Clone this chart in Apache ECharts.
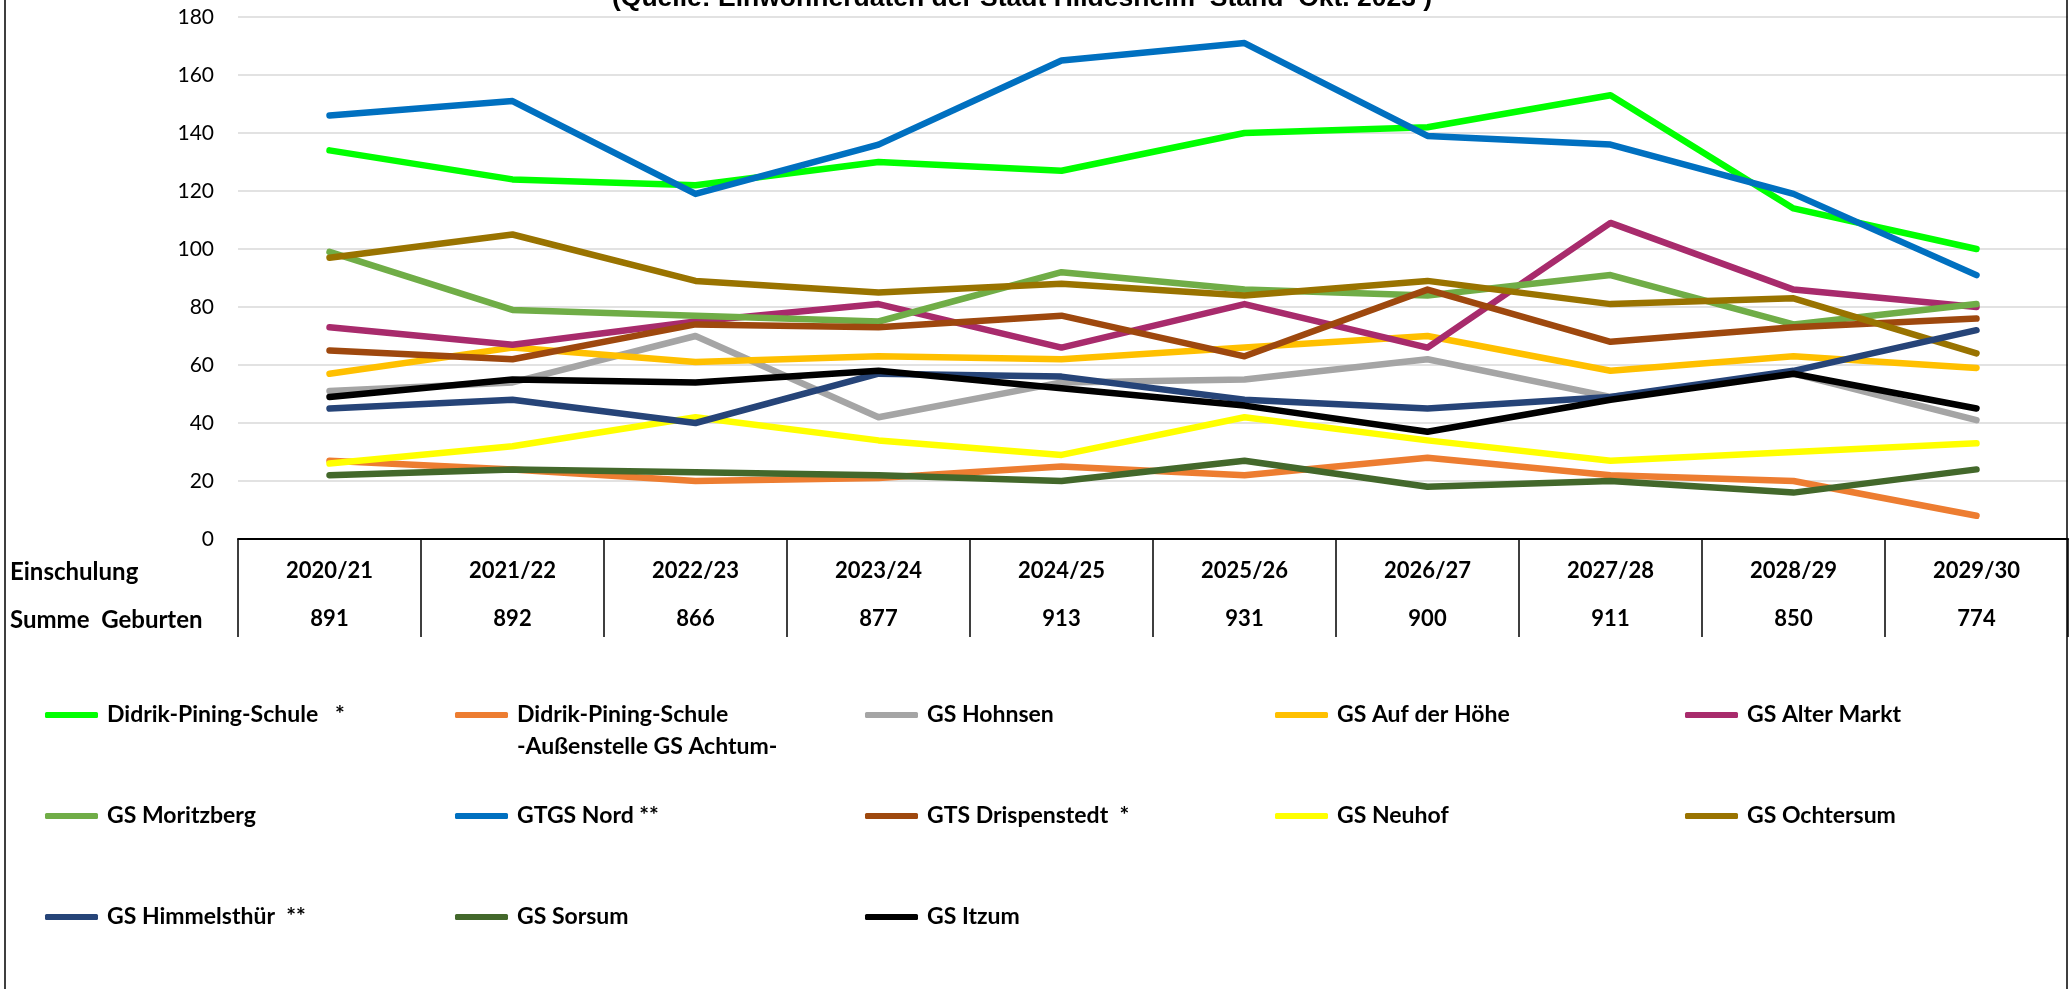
<!DOCTYPE html>
<html>
<head>
<meta charset="utf-8">
<script src="https://cdn.jsdelivr.net/npm/echarts@6/dist/echarts.min.js"></script>
<style>
  html, body { margin: 0; padding: 0; background: #fff; }
  #chart { width: 2071px; height: 989px; }
</style>
</head>
<body>
<div id="chart"></div>
<script>
// ---- Data ----
const categories = ['2020/21', '2021/22', '2022/23', '2023/24', '2024/25', '2025/26', '2026/27', '2027/28', '2028/29', '2029/30'];
const birthTotals = [891, 892, 866, 877, 913, 931, 900, 911, 850, 774];
const yTicks = { min: 0, max: 180, step: 20 };

const seriesNames = [
  'Didrik-Pining-Schule   *',
  'Didrik-Pining-Schule -Außenstelle GS Achtum-',
  'GS Hohnsen',
  'GS Auf der Höhe',
  'GS Alter Markt',
  'GS Moritzberg',
  'GTGS Nord **',
  'GTS Drispenstedt  *',
  'GS Neuhof',
  'GS Ochtersum',
  'GS Himmelsthür  **',
  'GS Sorsum',
  'GS Itzum'
];
const didrikPining    = [134, 124, 122, 130, 127, 140, 142, 153, 114, 100];
const achtum          = [27, 24, 20, 21, 25, 22, 28, 22, 20, 8];
const hohnsen         = [51, 54, 70, 42, 54, 55, 62, 49, 57, 41];
const aufDerHoehe     = [57, 66, 61, 63, 62, 66, 70, 58, 63, 59];
const alterMarkt      = [73, 67, 75, 81, 66, 81, 66, 109, 86, 80];
const moritzberg      = [99, 79, 77, 75, 92, 86, 84, 91, 74, 81];
const gtgsNord        = [146, 151, 119, 136, 165, 171, 139, 136, 119, 91];
const drispenstedt    = [65, 62, 74, 73, 77, 63, 86, 68, 73, 76];
const neuhof          = [26, 32, 42, 34, 29, 42, 34, 27, 30, 33];
const ochtersum       = [97, 105, 89, 85, 88, 84, 89, 81, 83, 64];
const himmelsthuer    = [45, 48, 40, 57, 56, 48, 45, 49, 58, 72];
const sorsum          = [22, 24, 23, 22, 20, 27, 18, 20, 16, 24];
const itzum           = [49, 55, 54, 58, 52, 46, 37, 48, 57, 45];

const seriesValues = [didrikPining, achtum, hohnsen, aufDerHoehe, alterMarkt, moritzberg, gtgsNord,
  drispenstedt, neuhof, ochtersum, himmelsthuer, sorsum, itzum];

const seriesColors = ['#00FF00', '#ED7D31', '#A5A5A5', '#FFC000', '#A82B6C', '#70AD47', '#0070C0',
  '#9E480E', '#FFFF00', '#997300', '#264478', '#43682B', '#000000'];

const titleText = '(Quelle: Einwohnerdaten der Stadt Hildesheim  Stand  Okt. 2023 )';

// ---- Chart ----
const FONT = 'Lato';
const chart = echarts.init(document.getElementById('chart'));

const legendCols = [45, 455, 865, 1275, 1685];
const legendRows = [715, 816, 917];
const LEG_LH = 32;

const legends = seriesNames.map((name, i) => {
  const col = i % 5, row = Math.floor(i / 5);
  const multi = name.indexOf('-Außenstelle') >= 0;
  return {
    data: [name],
    left: legendCols[col],
    top: legendRows[row] - (multi ? LEG_LH * 1.5 : LEG_LH / 2),
    padding: 0,
    icon: 'roundRect',
    itemWidth: 53,
    itemHeight: 6,
    formatter: multi ? () => ' \nDidrik-Pining-Schule\n-Außenstelle GS Achtum-' : '{name}',
    textStyle: { fontFamily: FONT, fontWeight: 'bold', fontSize: 23, color: '#000', lineHeight: LEG_LH, padding: [0, 0, 0, 4] }
  };
});

const option = {
  animation: false,
  backgroundColor: '#fff',
  grid: { left: 238, right: 3, top: 17, bottom: 450, containLabel: false },
  xAxis: {
    type: 'category',
    data: categories,
    boundaryGap: true,
    axisLine: { show: true, lineStyle: { color: '#000', width: 2 } },
    axisTick: { show: true, length: 98, interval: 0, lineStyle: { color: '#000', width: 1.5 } },
    axisLabel: {
      interval: 0,
      margin: 8,
      formatter: (v, idx) => '{a|' + v + '}\n{b|' + birthTotals[idx] + '}',
      rich: {
        a: { fontFamily: FONT, fontWeight: 'bold', fontSize: 22, color: '#000', lineHeight: 48 },
        b: { fontFamily: FONT, fontWeight: 'bold', fontSize: 22, color: '#000', lineHeight: 48 }
      }
    },
    splitLine: { show: false }
  },
  yAxis: {
    type: 'value',
    min: yTicks.min, max: yTicks.max, interval: yTicks.step,
    axisLine: { show: false },
    axisTick: { show: false },
    axisLabel: { fontFamily: FONT, fontSize: 21, color: '#000', margin: 24 },
    splitLine: { lineStyle: { color: '#D9D9D9', width: 1.7 } }
  },
  legend: legends,
  series: seriesNames.map((name, i) => ({
    name,
    type: 'line',
    data: seriesValues[i],
    symbol: 'none',
    color: seriesColors[i],
    lineStyle: { width: 6.5, color: seriesColors[i], cap: 'round', join: 'round' },
    z: 2 + i * 0.01
  })),
  graphic: [
    { type: 'rect', silent: true, shape: { x: 5, y: -5, width: 2062, height: 1000 },
      style: { fill: 'none', stroke: '#000', lineWidth: 1.5 }, z: 100 },
    { type: 'text', silent: true, x: 612, y: -1.5,
      style: { text: titleText, font: 'bold 26.5px "Liberation Sans", Arial, sans-serif', fill: '#000', verticalAlign: 'middle', align: 'left' } },
    { type: 'text', silent: true, x: 10, y: 572,
      style: { text: 'Einschulung', font: 'bold 24px ' + FONT, fill: '#000', verticalAlign: 'middle' } },
    { type: 'text', silent: true, x: 10, y: 620,
      style: { text: 'Summe  Geburten', font: 'bold 24px ' + FONT, fill: '#000', verticalAlign: 'middle' } }
  ]
};
chart.setOption(option);
</script>
</body>
</html>
